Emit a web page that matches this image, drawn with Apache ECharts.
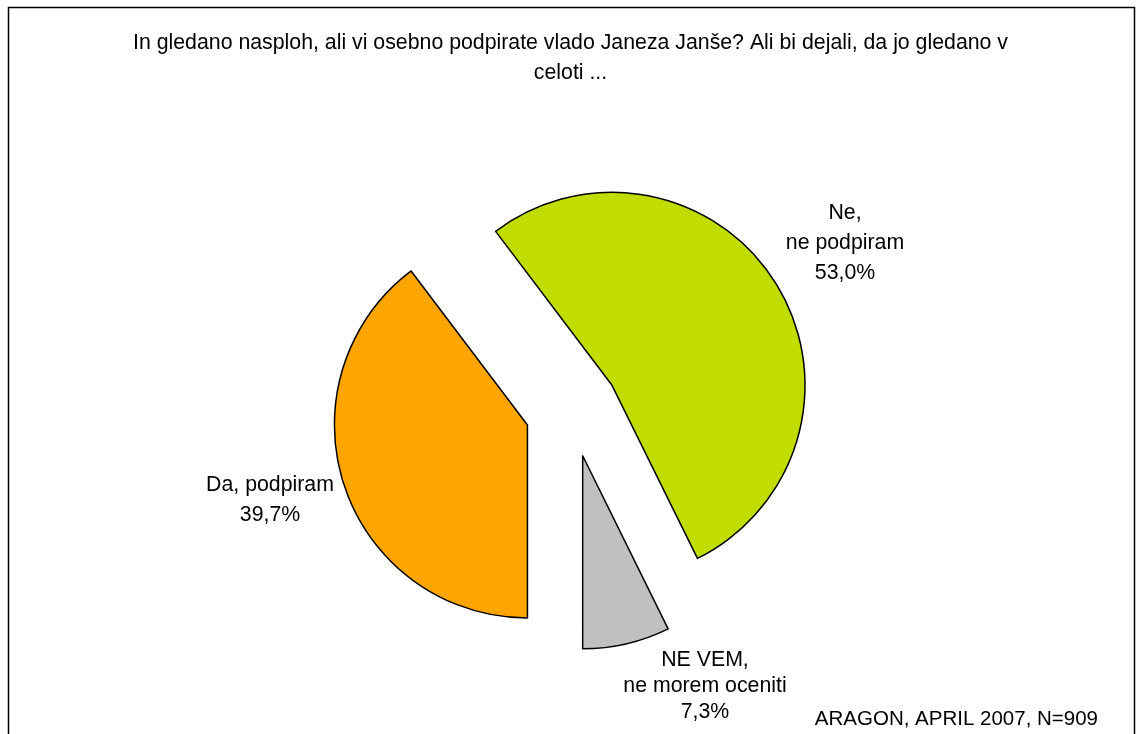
<!DOCTYPE html>
<html>
<head>
<meta charset="utf-8">
<script src="https://cdn.jsdelivr.net/npm/echarts@6/dist/echarts.min.js"></script>
<style>
  html, body { margin: 0; padding: 0; background: #fff; }
  #chart { width: 1141px; height: 734px; }
</style>
</head>
<body>
<div id="chart"></div>
<script>
// pie data, clockwise from 6 o'clock
var categories = ['Da, podpiram', 'Ne,\nne podpiram', 'NE VEM,\nne morem oceniti']
var values = [39.7, 53.0, 7.3]
var colors = ['#ffa500', '#c0dc00', '#c0c0c0']

var titleText = 'In gledano nasploh, ali vi osebno podpirate vlado Janeza Janše? Ali bi dejali, da jo gledano v\nceloti ...'
var sourceText = 'ARAGON, APRIL 2007, N=909'

var chart = echarts.init(document.getElementById('chart'))

// where each slice caption is centred
var labelSpots = [[270, 500], [845, 243], [705, 686]]
var labelLineHeights = [30, 30, 26]

function pct(v) {
  return v.toFixed(1).replace('.', ',') + '%'
}

var labelTexts = categories.map(function (c, i) {
  return {
    type: 'text',
    silent: true,
    x: labelSpots[i][0],
    y: labelSpots[i][1],
    style: {
      text: c + '\n' + pct(values[i]),
      fill: '#000',
      fontSize: 21.3,
      fontFamily: 'Liberation Sans, Arial, sans-serif',
      lineHeight: labelLineHeights[i],
      align: 'center',
      verticalAlign: 'middle'
    }
  }
})

chart.setOption({
  animation: false,
  textStyle: { fontFamily: 'Liberation Sans, Arial, sans-serif' },
  title: [
    {
      text: titleText,
      left: 'center',
      top: 23,
      textStyle: { fontSize: 21.3, fontWeight: 'normal', color: '#000', lineHeight: 30 }
    },
    {
      text: sourceText,
      right: 38,
      top: 704,
      textStyle: { fontSize: 20.5, fontWeight: 'normal', color: '#000' }
    }
  ],
  graphic: [{
    type: 'rect',
    shape: { x: 8.5, y: 7.5, width: 1126, height: 760 },
    style: { fill: 'none', stroke: '#000', lineWidth: 1.5 },
    silent: true
  }].concat(labelTexts),
  series: [{
    type: 'pie',
    center: [572, 410],
    radius: 193,
    startAngle: 270,
    clockwise: true,
    selectedMode: 'multiple',
    selectedOffset: 47,
    emphasis: { disabled: true },
    itemStyle: { borderColor: '#000', borderWidth: 1.5 },
    label: { show: false },
    labelLine: { show: false },
    data: categories.map(function (c, i) {
      return { name: c, value: values[i], selected: true, itemStyle: { color: colors[i] } }
    })
  }]
})

window.addEventListener('resize', function () {
  chart.resize()
})
</script>
</body>
</html>
